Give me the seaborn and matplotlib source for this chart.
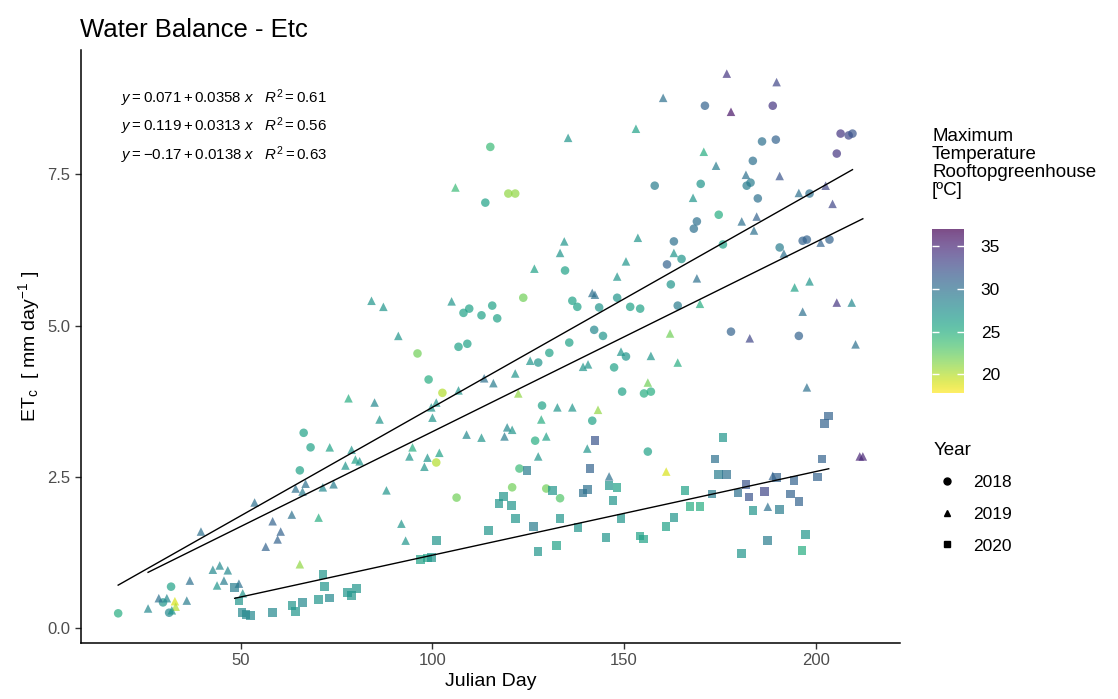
import numpy as np
import pandas as pd
import matplotlib
matplotlib.use('Agg')
import matplotlib.pyplot as plt
import seaborn as sns
from matplotlib.lines import Line2D
from matplotlib.colors import ListedColormap, Normalize
from matplotlib.cm import ScalarMappable

# Datos: (día juliano, ETc, Tmax)
day_2018 = [115.1, 113.8, 119.8, 121.6, 171.1, 188.8, 206.5, 208.6, 209.6, 186.0, 189.6, 205.5, 183.6,
            182.0, 183.0, 158.0, 170.0, 184.9, 198.4, 174.7, 169.0, 168.2, 163.0, 175.8, 165.0, 190.6,
            196.6, 197.7, 203.6, 161.2, 162.2, 151.6, 154.2, 164.0, 177.9, 195.6, 155.2, 157.0, 156.2,
            101.0, 122.7, 106.3, 120.8, 129.7, 133.3, 65.4, 31.8, 29.7, 31.3, 18.0, 66.4, 68.2,
            134.6, 108.1, 109.6, 112.8, 115.6, 116.9, 123.7, 106.8, 109.1, 96.1, 136.5, 137.8, 143.5,
            148.2, 142.2, 144.5, 135.7, 130.5, 127.6, 150.5, 147.4, 99.0, 102.6, 149.5, 128.6, 141.7, 126.8]
etc_2018 = [7.95, 7.03, 7.18, 7.18, 8.63, 8.63, 8.17, 8.14, 8.17, 8.04, 8.07, 7.84, 7.72,
            7.31, 7.36, 7.31, 7.34, 7.10, 7.18, 6.83, 6.72, 6.60, 6.39, 6.34, 6.10, 6.29,
            6.40, 6.42, 6.42, 6.01, 5.68, 5.31, 5.28, 5.33, 4.90, 4.83, 3.88, 3.91, 2.92,
            2.74, 2.64, 2.16, 2.33, 2.31, 2.15, 2.61, 0.69, 0.43, 0.26, 0.25, 3.23, 2.99,
            5.91, 5.21, 5.28, 5.17, 5.33, 5.12, 5.46, 4.65, 4.70, 4.54, 5.41, 5.31, 5.30,
            5.46, 4.93, 4.83, 4.72, 4.55, 4.39, 4.49, 4.31, 4.11, 3.89, 3.91, 3.68, 3.43, 3.10]
tmax_2018 = [24, 26, 21, 21, 31, 34, 34, 33, 32, 30, 31, 34, 30,
             29, 29, 29, 27, 30, 30, 25, 30, 30, 30, 26, 27, 29,
             31, 31, 31, 31, 27, 26, 26, 29, 31, 31, 25, 25, 26,
             20, 24, 22, 22, 22, 23, 26, 26, 27, 28, 25, 26, 26,
             26, 26, 26, 26, 26, 26, 22, 26, 26, 22, 26, 26, 27,
             27, 28, 27, 26, 26, 27, 27, 26, 25, 20, 26, 26, 26, 25]

day_2019 = [135.4, 153.1, 106.0, 134.4, 133.3, 153.6, 176.8, 189.8, 160.2, 177.9, 170.8, 174.0, 181.8,
            190.6, 202.6, 168.0, 195.6, 204.4, 184.6, 180.7, 183.9, 163.0, 201.3, 191.7, 169.0, 194.5,
            198.4, 205.5, 209.4, 169.8, 196.6, 162.0, 182.8, 210.4, 157.0, 164.0, 156.2, 197.7, 161.0,
            211.5, 212.3, 188.8, 187.5, 94.0, 98.7, 101.8, 97.9, 127.6, 140.4, 146.1, 88.0, 91.9, 93.0,
            53.6, 39.6, 66.9, 64.3, 66.1, 71.4, 74.2, 77.3, 79.9, 81.0, 63.3, 70.3, 58.3, 60.4, 59.6,
            56.5, 65.4, 44.5, 42.7, 46.6, 45.6, 43.8, 49.5, 50.5, 36.7, 35.9, 28.6, 30.7, 32.8, 33.0,
            32.0, 25.8, 78.1, 73.2, 78.9, 126.6, 150.5, 148.2, 84.1, 87.2, 105.0, 91.1, 141.7, 142.4,
            125.5, 149.2, 139.3, 140.6, 113.5, 115.9, 121.6, 106.8, 122.4, 99.7, 101.0, 100.0, 84.9,
            86.2, 132.6, 136.5, 143.2, 128.4, 108.9, 112.8, 119.5, 120.8, 118.8, 129.7, 94.8]
etc_2019 = [8.10, 8.25, 7.28, 6.39, 6.20, 6.45, 9.16, 9.02, 8.76, 8.53, 7.87, 7.64, 7.49,
            7.47, 7.31, 7.11, 7.19, 7.01, 6.80, 6.72, 6.57, 6.20, 6.37, 6.19, 5.78, 5.63,
            5.73, 5.38, 5.38, 5.36, 5.23, 4.87, 4.79, 4.69, 4.50, 4.39, 4.06, 3.98, 2.59,
            2.84, 2.84, 2.52, 2.01, 2.84, 2.82, 2.90, 2.67, 2.84, 2.97, 2.51, 2.28, 1.73, 1.45,
            2.08, 1.60, 2.39, 2.31, 2.26, 2.33, 2.38, 2.69, 2.79, 2.76, 1.88, 1.83, 1.77, 1.60, 1.47,
            1.35, 1.06, 1.04, 0.97, 0.96, 0.79, 0.71, 0.74, 0.58, 0.79, 0.46, 0.50, 0.50, 0.45, 0.36,
            0.30, 0.33, 3.80, 2.99, 2.95, 5.94, 6.06, 5.81, 5.41, 5.31, 5.40, 4.83, 5.54, 5.51,
            4.42, 4.57, 4.32, 4.36, 4.13, 4.05, 4.21, 3.93, 3.88, 3.65, 3.73, 3.48, 3.73,
            3.45, 3.65, 3.65, 3.61, 3.45, 3.20, 3.15, 3.32, 3.28, 3.17, 3.17, 2.99]
tmax_2019 = [27, 26, 24, 27, 27, 27, 34, 33, 30, 36, 25, 29, 30,
             32, 33, 27, 30, 33, 31, 30, 30, 27, 31, 30, 30, 26,
             27, 34, 28, 25, 30, 22, 33, 30, 27, 25, 22, 30, 19,
             35, 35, 31, 30, 27, 27, 26, 27, 27, 27, 30, 27, 27, 27,
             30, 30, 30, 30, 29, 28, 29, 27, 26, 27, 30, 25, 31, 31, 31,
             31, 21, 28, 28, 28, 29, 27, 30, 27, 30, 29, 30, 28, 19, 20,
             27, 28, 25, 26, 27, 26, 27, 27, 27, 27, 27, 27, 30, 30,
             27, 27, 27, 27, 30, 29, 27, 27, 21, 27, 27, 27, 28,
             27, 27, 27, 21, 25, 28, 27, 28, 27, 29, 26, 25]

day_2020 = [203.4, 202.3, 175.8, 142.4, 173.7, 201.6, 174.7, 176.8, 189.8, 194.3, 200.5, 181.8, 165.9,
            172.9, 179.7, 182.6, 186.7, 193.5, 195.6, 167.2, 169.8, 183.6, 190.6, 163.0, 161.0, 154.2,
            155.0, 197.4, 187.5, 196.4, 180.7, 124.7, 141.1, 146.1, 148.2, 139.3, 140.4, 147.1, 131.3,
            118.5, 117.4, 120.6, 121.6, 133.3, 149.2, 126.3, 114.6, 138.0, 101.0, 145.3, 127.6, 132.3,
            96.9, 98.7, 99.7, 71.4, 71.9, 73.2, 70.3, 77.9, 78.9, 80.2, 63.3, 64.3, 66.1, 58.3,
            50.3, 51.3, 52.6, 49.5, 48.4]
etc_2020 = [3.51, 3.38, 3.15, 3.10, 2.80, 2.80, 2.54, 2.54, 2.49, 2.44, 2.50, 2.38, 2.28,
            2.22, 2.24, 2.17, 2.26, 2.22, 2.10, 2.01, 2.01, 1.95, 1.96, 1.83, 1.68, 1.53,
            1.48, 1.55, 1.45, 1.29, 1.24, 2.61, 2.64, 2.36, 2.33, 2.24, 2.29, 2.11, 2.28,
            2.18, 2.06, 2.03, 1.82, 1.82, 1.82, 1.68, 1.62, 1.67, 1.45, 1.50, 1.27, 1.37,
            1.14, 1.16, 1.17, 0.89, 0.69, 0.50, 0.48, 0.59, 0.54, 0.66, 0.38, 0.28, 0.43, 0.26,
            0.26, 0.23, 0.21, 0.45, 0.68]
tmax_2020 = [31, 31, 27, 32, 30, 31, 29, 30, 31, 31, 31, 32, 26,
             29, 30, 32, 33, 31, 31, 25, 25, 27, 29, 27, 26, 26,
             26, 27, 29, 25, 27, 29, 31, 27, 26, 30, 30, 27, 27,
             27, 27, 27, 27, 27, 27, 29, 27, 27, 27, 27, 27, 26,
             26, 26, 27, 27, 27, 28, 27, 27, 27, 27, 27, 27, 28, 28,
             28, 28, 28, 27, 29]

# Ajustes lineales por año (de las ecuaciones del gráfico)
years = [2018, 2019, 2020]
intercepts = [0.071, 0.119, -0.17]
slopes = [0.0358, 0.0313, 0.0138]
r2 = [0.61, 0.56, 0.63]

tmax_lim = (17.8, 37.0)

plt.rcParams['font.family'] = ['Liberation Sans', 'DejaVu Sans']
plt.rcParams['mathtext.fontset'] = 'custom'
plt.rcParams['mathtext.rm'] = 'Liberation Sans'
plt.rcParams['mathtext.it'] = 'Liberation Sans:italic'

df = pd.concat([
    pd.DataFrame({'day': day_2018, 'etc': etc_2018, 'tmax': tmax_2018, 'year': 2018}),
    pd.DataFrame({'day': day_2019, 'etc': etc_2019, 'tmax': tmax_2019, 'year': 2019}),
    pd.DataFrame({'day': day_2020, 'etc': etc_2020, 'tmax': tmax_2020, 'year': 2020}),
], ignore_index=True)

fig = plt.figure(figsize=(11.18, 6.99), dpi=100)
ax = fig.add_axes([81 / 1118, 1 - 643 / 699, (900 - 81) / 1118, (643 - 50) / 699])

markers = {2018: 'o', 2019: '^', 2020: 's'}
sns.scatterplot(data=df, x='day', y='etc', hue='tmax', style='year', markers=markers,
                palette='viridis_r', hue_norm=tmax_lim, alpha=0.7, s=38,
                edgecolor='none', legend=False, ax=ax)

# rectas de regresión
for yr, a, b in zip(years, intercepts, slopes):
    sub = df[df['year'] == yr]
    xs = np.array([sub['day'].min(), sub['day'].max()])
    sns.lineplot(x=xs, y=a + b * xs, color='black', linewidth=1, ax=ax)

# ecuaciones
eq_y = [0.919, 0.872, 0.822]
for a, b, r, yy in zip(intercepts, slopes, r2, eq_y):
    txt = rf'$y = {a:g} + {b:g}\ x\quad R^2 = {r:.2f}$'
    ax.text(0.049, yy, txt, transform=ax.transAxes, fontsize=10.8, va='center', ha='left')

ax.set_xlim(8.3, 222)
ax.set_ylim(-0.24, 9.55)
ax.set_xticks([50, 100, 150, 200])
ax.set_yticks([0.0, 2.5, 5.0, 7.5])
ax.set_yticklabels(['0.0', '2.5', '5.0', '7.5'])
ax.set_xlabel('Julian Day', fontsize=14, labelpad=3)
ax.set_ylabel(r'ET$_\mathrm{c}$  [ mm day$^{-1}$ ]', fontsize=14)
ax.tick_params(colors='#333333', labelcolor='#4D4D4D', labelsize=12, length=4, width=1)
for s in ['top', 'right']:
    ax.spines[s].set_visible(False)
for s in ['left', 'bottom']:
    ax.spines[s].set_linewidth(1.1)
fig.text(80 / 1118, 1 - 30 / 699, 'Water Balance - Etc', fontsize=18.5, va='center', ha='left')

# barra de color
base = plt.get_cmap('viridis_r')(np.linspace(0, 1, 256))
base[:, :3] = base[:, :3] * 0.7 + 0.3
cax = fig.add_axes([932 / 1118, 1 - 393 / 699, 32 / 1118, 164 / 699])
cb = fig.colorbar(ScalarMappable(norm=Normalize(*tmax_lim), cmap=ListedColormap(base)), cax=cax)
cb.outline.set_visible(False)
cb.set_ticks([20, 25, 30, 35])
cax.tick_params(left=True, right=True, labelleft=False, labelright=True, direction='in',
                color='white', length=5, width=1, labelsize=12.5, pad=12)
fig.text(932 / 1118, 1 - 128 / 699, 'Maximum\nTemperature\nRooftopgreenhouse\n[ºC]',
         fontsize=13.5, va='top', ha='left', linespacing=1.08)

# leyenda de año
handles = [Line2D([], [], marker=markers[y], color='black', linestyle='', markersize=5) for y in years]
leg = fig.legend(handles, [str(y) for y in years], title='Year', loc='upper left',
                 bbox_to_anchor=(918 / 1118, 1 - 426 / 699), frameon=False, fontsize=12.5,
                 title_fontsize=13.5, labelspacing=0.95, handlelength=1.5, handletextpad=0.8,
                 alignment='left')

fig.savefig('out.png', dpi=100)
